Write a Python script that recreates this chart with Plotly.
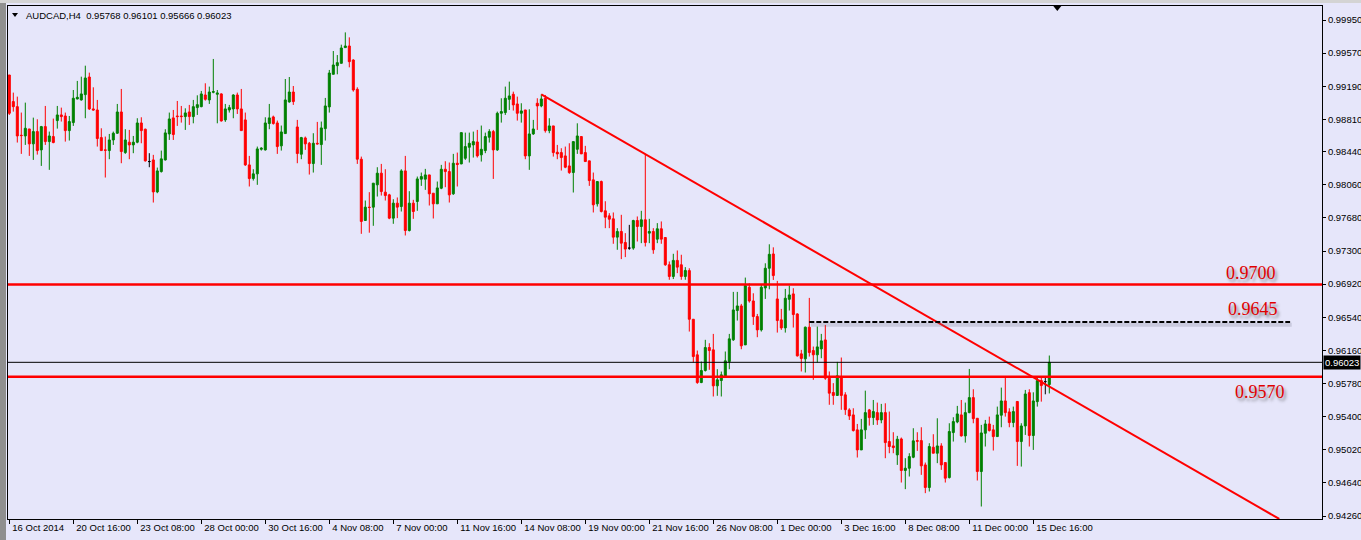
import plotly.graph_objects as go

# ---------------- data ----------------
symbol = "AUDCAD,H4"
tick_labels = ["16 Oct 2014", "20 Oct 16:00", "23 Oct 08:00", "28 Oct 00:00", "30 Oct 16:00",
               "4 Nov 08:00", "7 Nov 00:00", "11 Nov 16:00", "14 Nov 08:00", "19 Nov 00:00",
               "21 Nov 16:00", "26 Nov 08:00", "1 Dec 00:00", "3 Dec 16:00", "8 Dec 08:00",
               "11 Dec 00:00", "15 Dec 16:00"]
bars_per_label = 16

opens = [
    .99319, .99014, .98956, .98628, .98620, .98700, .98529, .98670, .98460, .98727,
    .98555, .98613, .98796, .98861, .98849, .98681, .98773, .99044, .99033, .99094,
    .99296, .98930, .98918, .98601, .98460, .98452, .98574, .98651, .98895, .98429,
    .98548, .98517, .98548, .98769, .98697, .98326, .98345, .97978, .98211, .98345,
    .98643, .98827, .98849, .98849, .98842, .98895, .98842, .98945, .98956, .99090,
    .99033, .99121, .99098, .99102, .98804, .98918, .98930, .99090, .98930, .98804,
    .98288, .98131, .98185, .98467, .98460, .98762, .98838, .98769, .98506, .98647,
    .99010, .99124, .98723, .98410, .98597, .98536, .98303, .98536, .98521, .98704,
    .98953, .99327, .99426, .99453, .99633, .99652, .99491, .99155, .98353, .97650,
    .97803, .97803, .98059, .98193, .97975, .97944, .97677, .97849, .97810, .98219,
    .97535, .97849, .97868, .98124, .98124, .98173, .97963, .97841, .98020, .98238,
    .98211, .97956, .98307, .98299, .98364, .98490, .98517, .98551, .98403, .98452,
    .98605, .98670, .98460, .98880, .98888, .99040, .99098, .98987, .98880, .98918,
    .98391, .98643, .98995, .98964, .99052, .98681, .98735, .98433, .98429, .98391,
    .98276, .98200, .98467, .98613, .98429, .98334, .98116, .97841, .98097, .97761,
    .97703, .97669, .97459, .97524, .97398, .97333, .97333, .97650, .97581, .97658,
    .97505, .97524, .97436, .97555, .97455, .97142, .97008, .97192, .97142, .97008,
    .97075, .96517, .96109, .95791, .95929, .96193, .96166, .95753, .95814, .95860,
    .96032, .96281, .96617, .96670, .96223, .96884, .96727, .96548, .96395, .96876,
    .97102, .97266, .96750, .96510, .96418, .96746, .96808, .96578, .96120, .96063,
    .96426, .96158, .96109, .96177, .96280, .95841, .95677, .95643, .95860, .95650,
    .95477, .95420, .95248, .95018, .95248, .95477, .95389, .95446, .95362, .95446,
    .95114, .95064, .94961, .95144, .94782, .94808, .94934, .95125, .95125, .94846,
    .94587, .95049, .94980, .95064, .94873, .94701, .95217, .95339, .95420, .95179,
    .95446, .95618, .95381, .94770, .95209, .95316, .95248, .95171, .95416, .95580,
    .95454, .95332, .95574, .95114, .95293, .95675, .95183, .95572, .95813, .95802,
    .95768]

highs = [
    .99319, .99117, .99071, .98888, .99002, .98700, .98830, .98811, .98735, .98964,
    .98670, .98819, .98964, .98945, .98888, .98849, .99147, .99251, .99300, .99426,
    .99346, .99178, .99033, .98708, .98613, .98643, .98670, .98987, .99159, .98697,
    .98689, .98620, .98823, .98834, .98704, .98422, .98403, .98257, .98452, .98697,
    .98888, .98918, .99021, .98964, .98937, .98976, .99033, .99086, .99136, .99224,
    .99186, .99503, .99147, .99109, .98987, .98976, .99098, .99117, .99159, .98888,
    .98391, .98238, .98498, .98490, .98834, .98987, .98853, .98796, .98739, .99273,
    .99296, .99193, .98804, .98609, .98613, .98551, .98651, .98781, .98785, .99056,
    .99377, .99594, .99548, .99667, .99808, .99751, .99499, .99178, .98383, .97879,
    .97975, .98078, .98261, .98299, .98238, .97956, .97894, .97914, .98238, .98391,
    .97986, .97887, .98154, .98200, .98242, .98173, .97963, .98097, .98288, .98330,
    .98315, .98414, .98429, .98658, .98658, .98658, .98670, .98689, .98739, .98658,
    .98697, .98689, .98899, .99052, .99186, .99243, .99128, .99071, .98995, .98918,
    .98926, .98804, .99052, .99098, .99090, .98823, .98735, .98517, .98479, .98498,
    .98536, .98555, .98765, .98613, .98506, .98334, .98200, .98097, .98108, .97871,
    .97734, .97742, .97562, .97715, .97505, .97600, .97658, .97696, .97761, .98403,
    .97669, .97562, .97620, .97639, .97455, .97180, .97268, .97306, .97257, .97115,
    .97102, .96517, .96158, .96032, .96281, .96242, .96349, .95944, .95917, .96147,
    .96349, .96831, .96831, .96693, .96995, .96930, .96815, .96578, .96911, .97159,
    .97377, .97342, .96957, .96636, .96865, .96903, .96873, .96586, .96166, .96433,
    .96762, .96204, .96433, .96349, .96452, .95918, .95784, .96028, .96078, .95680,
    .95496, .95496, .95316, .95374, .95698, .95488, .95591, .95561, .95546, .95553,
    .95458, .95221, .95179, .95160, .94923, .94980, .95267, .95221, .95278, .94873,
    .95095, .95198, .95381, .95095, .94873, .95324, .95393, .95523, .95591, .95561,
    .95947, .95714, .95381, .95305, .95362, .95400, .95305, .95515, .95733, .95851,
    .95496, .95515, .95578, .95324, .95706, .95714, .95679, .95851, .95851, .95851,
    .96101]

lows = [
    .98861, .98899, .98544, .98414, .98517, .98391, .98345, .98406, .98276, .98517,
    .98231, .98536, .98704, .98785, .98555, .98567, .98735, .99040, .99025, .98823,
    .98918, .98911, .98498, .98452, .98143, .98353, .98517, .98643, .98307, .98414,
    .98353, .98422, .98536, .98536, .98326, .98261, .97856, .97963, .98200, .98338,
    .98574, .98574, .98735, .98773, .98689, .98746, .98765, .98861, .98949, .99025,
    .98987, .99109, .98765, .98785, .98781, .98888, .98823, .98872, .98681, .98276,
    .98040, .98108, .98059, .98452, .98452, .98697, .98750, .98414, .98452, .98647,
    .99002, .98976, .98307, .98353, .98460, .98177, .98200, .98521, .98288, .98567,
    .98888, .99327, .99327, .99453, .99633, .99407, .99128, .98299, .97497, .97650,
    .97510, .97589, .97925, .97936, .97879, .97665, .97612, .97677, .97753, .97478,
    .97524, .97669, .97761, .98047, .98001, .97822, .97673, .97841, .98009, .98032,
    .97856, .97944, .98040, .98296, .98345, .98315, .98372, .98372, .98326, .98422,
    .98544, .98127, .98448, .98773, .98861, .98918, .98911, .98796, .98773, .98353,
    .98231, .98632, .98689, .98949, .98658, .98651, .98383, .98353, .98223, .98250,
    .98185, .97971, .98414, .98414, .98326, .98047, .97742, .97810, .97742, .97562,
    .97562, .97383, .97314, .97207, .97230, .97314, .97314, .97409, .97390, .97352,
    .97390, .97268, .97390, .97383, .97130, .96970, .96978, .97046, .96970, .96970,
    .96376, .96021, .95776, .95784, .95917, .95937, .95631, .95639, .95631, .95853,
    .95944, .96269, .96502, .96173, .96223, .96708, .96452, .96311, .96376, .96750,
    .96861, .96968, .96364, .96395, .96364, .96617, .96422, .96089, .95918, .95906,
    .96089, .95822, .96021, .96070, .95822, .95536, .95536, .95639, .95478, .95420,
    .95362, .95229, .94931, .95018, .95144, .95297, .95305, .95305, .95324, .94923,
    .94980, .94980, .94846, .94644, .94568, .94713, .94923, .95007, .94732, .94522,
    .94541, .94980, .94866, .94789, .94644, .94690, .95114, .95324, .95171, .95102,
    .95439, .95324, .94667, .94369, .95057, .95229, .95011, .95171, .95278, .95400,
    .95278, .95278, .94835, .94827, .95190, .95057, .95018, .95515, .95572, .95656,
    .95666]

closes = [
    .98880, .98956, .98620, .98624, .98708, .98529, .98670, .98452, .98727, .98555,
    .98620, .98544, .98861, .98842, .98681, .98785, .99052, .99063, .99102, .99285,
    .98930, .98918, .98590, .98452, .98456, .98574, .98651, .98895, .98441, .98574,
    .98517, .98548, .98769, .98681, .98334, .98326, .97978, .98219, .98357, .98655,
    .98815, .98636, .98842, .98842, .98884, .98842, .98956, .98979, .99102, .99040,
    .99124, .99128, .99113, .98792, .98930, .98945, .99090, .98930, .98681, .98288,
    .98131, .98185, .98471, .98479, .98769, .98827, .98762, .98498, .98666, .99033,
    .99124, .99014, .98418, .98601, .98529, .98303, .98536, .98529, .98712, .98964,
    .99342, .99434, .99461, .99629, .99652, .99472, .99147, .98353, .97639, .97803,
    .97799, .98078, .98193, .97982, .97936, .97677, .97849, .97803, .98219, .97535,
    .97849, .97753, .98127, .98154, .98173, .97956, .97841, .98024, .98238, .98211,
    .97944, .98307, .98292, .98658, .98498, .98536, .98555, .98391, .98467, .98613,
    .98670, .98460, .98880, .98899, .99052, .99079, .98976, .98880, .98907, .98391,
    .98643, .98700, .98964, .99044, .98681, .98735, .98429, .98414, .98372, .98261,
    .98200, .98555, .98620, .98414, .98326, .98108, .97830, .98097, .97753, .97688,
    .97665, .97459, .97524, .97390, .97322, .97333, .97650, .97581, .97658, .97398,
    .97524, .97314, .97555, .97436, .97142, .97008, .97192, .97115, .97008, .97077,
    .96517, .96089, .95791, .95929, .96193, .96158, .95753, .95822, .95879, .96040,
    .96292, .96624, .96670, .96212, .96903, .96727, .96548, .96395, .96884, .97102,
    .97262, .97018, .96502, .96418, .96758, .96796, .96571, .96097, .96067, .96426,
    .96135, .96109, .96200, .96269, .95841, .95669, .95643, .95868, .95643, .95480,
    .95408, .95240, .95018, .95248, .95446, .95389, .95458, .95362, .95446, .95102,
    .95057, .95045, .95141, .94782, .94808, .94942, .95122, .95118, .94835, .94587,
    .95057, .94980, .95064, .94846, .94694, .95229, .95343, .95431, .95179, .95446,
    .95618, .95377, .94770, .95213, .95316, .95240, .95171, .95420, .95580, .95446,
    .95332, .95458, .95114, .95293, .95660, .95183, .95580, .95813, .95756, .95802,
    .96023]

doji_bars = [35, 155, 259]          # bars drawn black (open == close)

level_lines = [0.96915, 0.95858]    # red horizontal levels
level_texts = ["0.9700", "0.9570"]
level_text_pos = [(310.4, 0.97053), (312.6, 0.95682)]
dash_level = 0.96485
dash_text = "0.9645"
dash_text_pos = (310.8, 0.96635)
dash_bars = [200, 320.2]
trend_bars = [133, 317.5]
trend_prices = [0.99098, 0.94226]

ytick_vals = [0.99950, 0.99570, 0.99190, 0.98810, 0.98440, 0.98060, 0.97680, 0.97300,
              0.96920, 0.96540, 0.96160, 0.95780, 0.95400, 0.95020, 0.94640, 0.94260]
shift_marker_bar = 262

# ---------------- styling ----------------
BG = "#E6E6FA"
GREEN = "#008000"
RED = "#FF0000"
FONT = "Liberation Sans"
W, H = 1361, 540
ML, MR, MT, MB = 8, 39, 6, 21
PW, PH = W - ML - MR, H - MT - MB


def px_x(p):
    return (p - ML) / PW


def px_y(p):
    return (H - MB - p) / PH


n = len(opens)
idx = list(range(n))
main = [i for i in idx if i not in doji_bars]

fig = go.Figure()
fig.add_trace(go.Candlestick(
    x=main,
    open=[opens[i] for i in main], high=[highs[i] for i in main],
    low=[lows[i] for i in main], close=[closes[i] for i in main],
    increasing=dict(line=dict(color=GREEN, width=1), fillcolor=GREEN),
    decreasing=dict(line=dict(color=RED, width=1), fillcolor=RED),
    whiskerwidth=0, hoverinfo="skip", showlegend=False))
fig.add_trace(go.Candlestick(
    x=doji_bars,
    open=[opens[i] for i in doji_bars], high=[highs[i] for i in doji_bars],
    low=[lows[i] for i in doji_bars], close=[closes[i] for i in doji_bars],
    increasing=dict(line=dict(color="black", width=1), fillcolor="black"),
    decreasing=dict(line=dict(color="black", width=1), fillcolor="black"),
    whiskerwidth=0, hoverinfo="skip", showlegend=False))

# trend line
fig.add_trace(go.Scatter(x=trend_bars, y=trend_prices, mode="lines",
                         line=dict(color=RED, width=2), hoverinfo="skip",
                         showlegend=False))

shapes = []
for lv in level_lines:
    shapes.append(dict(type="line", xref="paper", yref="y", x0=0, x1=1, y0=lv, y1=lv,
                       line=dict(color=RED, width=2.5), layer="above"))
# dashed level with faint shadow
shapes.append(dict(type="line", xref="x", yref="y", x0=dash_bars[0] + 0.4, x1=dash_bars[1] + 0.4,
                   y0=dash_level - 0.00030, y1=dash_level - 0.00030,
                   line=dict(color="rgba(120,120,140,0.25)", width=4)))
shapes.append(dict(type="line", xref="x", yref="y", x0=dash_bars[0], x1=dash_bars[1],
                   y0=dash_level, y1=dash_level,
                   line=dict(color="black", width=2, dash="5px,2px")))
# current price line
shapes.append(dict(type="line", xref="paper", yref="y", x0=0, x1=1,
                   y0=closes[-1], y1=closes[-1], line=dict(color="black", width=1)))
# chart shift marker at top
top_h = 5 / PH
shapes.append(dict(type="path", xref="x", yref="paper",
                   path=f"M {shift_marker_bar-1},1 L {shift_marker_bar+1},1 L {shift_marker_bar},{1-top_h} Z",
                   fillcolor="black", line=dict(color="black", width=0)))
# window chrome: left strip, top strip
shapes.append(dict(type="rect", xref="paper", yref="paper", x0=px_x(0), x1=px_x(6),
                   y0=px_y(H), y1=px_y(0), fillcolor="#8f8f8f", line=dict(width=0)))
shapes.append(dict(type="rect", xref="paper", yref="paper", x0=px_x(0), x1=px_x(W),
                   y0=px_y(3), y1=px_y(0), fillcolor="#d4d4d4", line=dict(width=0)))
# header triangle
shapes.append(dict(type="path", xref="paper", yref="paper",
                   path=f"M {px_x(12)},{px_y(13)} L {px_x(18)},{px_y(13)} L {px_x(15)},{px_y(17)} Z",
                   fillcolor="black", line=dict(width=0)))

annotations = []
header = f"{symbol}  {opens[-1]:.5f} {highs[-1]:.5f} {lows[-1]:.5f} {closes[-1]:.5f}"
annotations.append(dict(text=header, xref="paper", yref="paper", x=px_x(24), y=px_y(15),
                        xanchor="left", yanchor="middle", showarrow=False,
                        font=dict(family=FONT, size=9.5, color="black")))
label_font = dict(family="Liberation Serif", size=18, color="#E00000",
                  shadow="2px 3px 3px rgba(60,60,60,0.55)")
for t, (bx, by) in zip(level_texts, level_text_pos):
    annotations.append(dict(text=t, x=bx, y=by, xref="x", yref="y", showarrow=False,
                            font=label_font))
annotations.append(dict(text=dash_text, x=dash_text_pos[0], y=dash_text_pos[1], xref="x",
                        yref="y", showarrow=False, font=label_font))
# current price box
annotations.append(dict(text=f"{closes[-1]:.5f}", xref="paper", yref="y", x=1, y=closes[-1],
                        xanchor="left", yanchor="middle", showarrow=False,
                        bgcolor="black", borderpad=1, xshift=1,
                        font=dict(family=FONT, size=9.5, color="white")))

fig.update_layout(
    width=W, height=H,
    margin=dict(l=ML, r=MR, t=MT, b=MB, pad=0, autoexpand=False),
    paper_bgcolor=BG, plot_bgcolor=BG,
    boxgap=0.5, boxgroupgap=0,
    showlegend=False,
    shapes=shapes, annotations=annotations,
    font=dict(family=FONT, size=9.5, color="black"),
    xaxis=dict(
        range=[(ML - 9.3) / 4, (W - MR - 9.3) / 4],
        rangeslider=dict(visible=False),
        tickmode="array",
        tickvals=[k * bars_per_label for k in range(len(tick_labels))],
        ticktext=tick_labels,
        tickangle=0,
        ticklabelposition="outside right",
        ticklabelshift=2,
        ticks="outside", ticklen=4, tickcolor="black", tickwidth=1,
        showgrid=False, zeroline=False,
        showline=True, linecolor="black", linewidth=1, mirror=True,
        tickfont=dict(family=FONT, size=9.5, color="black"),
        automargin=False,
        fixedrange=True),
    yaxis=dict(
        side="right",
        range=[0.9995 - 499 / 8717, 0.9995 + 14 / 8717],
        tickmode="array", tickvals=ytick_vals,
        ticktext=[f"{v:.5f}" for v in ytick_vals],
        ticks="outside", ticklen=3, tickcolor="black", tickwidth=1,
        showgrid=False, zeroline=False,
        showline=True, linecolor="black", linewidth=1, mirror=True,
        tickfont=dict(family=FONT, size=9.5, color="black"),
        automargin=False,
        fixedrange=True),
)

fig.write_html("out.html", config={"displayModeBar": False},
               post_script="document.body.style.margin='0';document.body.style.padding='0';"
                           "document.body.style.overflow='hidden';"
                           "document.body.style.background='" + BG + "';")
